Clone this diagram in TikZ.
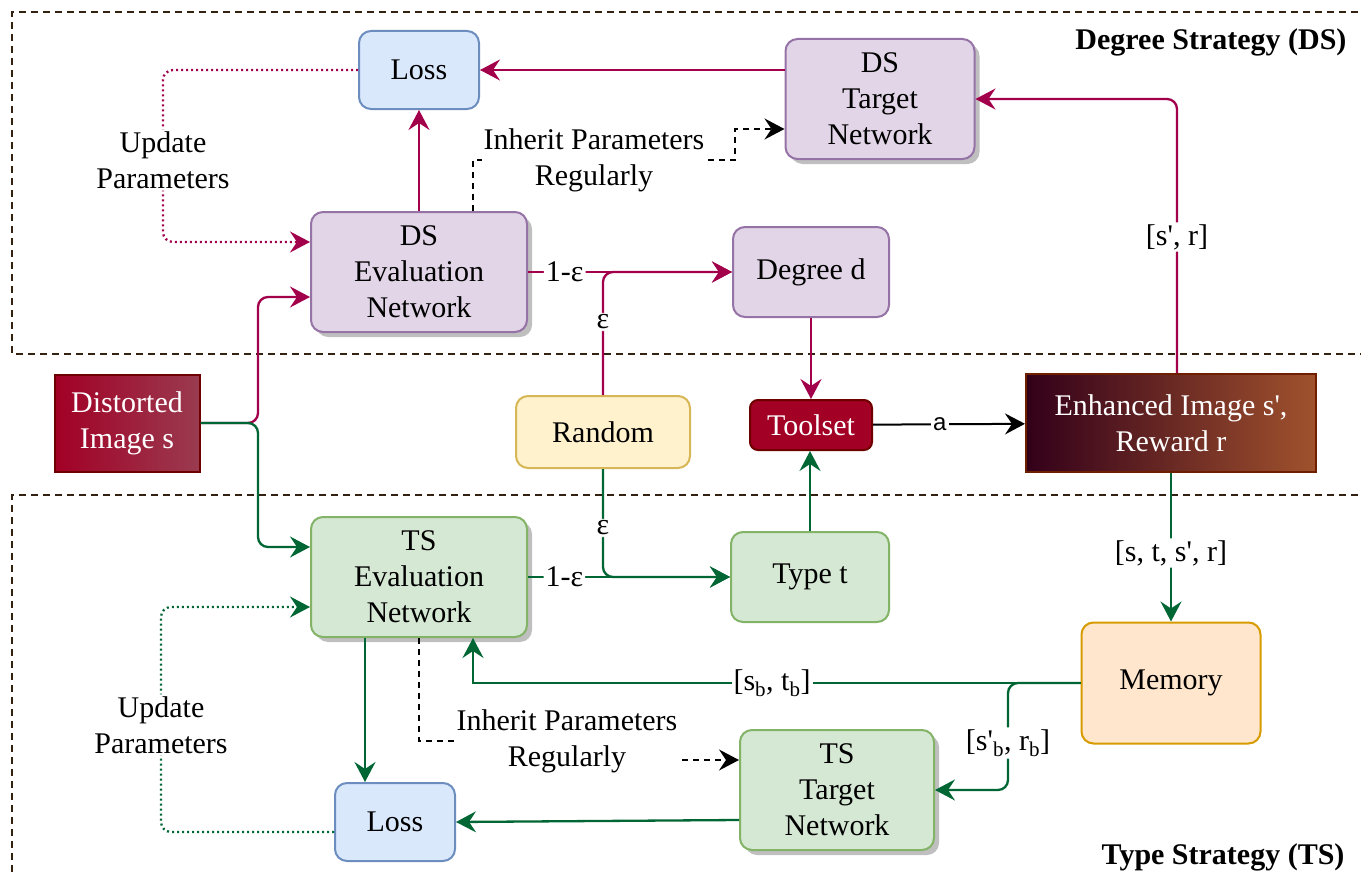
\documentclass[tikz,border=0pt]{standalone}
\usepackage{fontspec}
\setmainfont{Liberation Serif}
\setsansfont{Liberation Sans}
\usetikzlibrary{arrows.meta,shadows}
\definecolor{dsred}{RGB}{163,0,76}
\definecolor{tsgreen}{RGB}{0,102,51}
\definecolor{framecol}{RGB}{51,34,17}
\definecolor{dsfill}{HTML}{E1D5E7}
\definecolor{dsdraw}{HTML}{9673A6}
\definecolor{tsfill}{HTML}{D5E8D4}
\definecolor{tsdraw}{HTML}{82B366}
\definecolor{lossfill}{HTML}{DAE8FC}
\definecolor{lossdraw}{HTML}{6C8EBF}
\definecolor{randfill}{HTML}{FFF2CC}
\definecolor{randdraw}{HTML}{D6B656}
\definecolor{memfill}{HTML}{FFE6CC}
\definecolor{memdraw}{HTML}{D79B00}
\definecolor{crimson}{HTML}{A20025}
\definecolor{crimsonlight}{HTML}{9A3B50}
\definecolor{crimsondraw}{HTML}{6F0000}
\definecolor{enhdark}{HTML}{33001A}
\definecolor{enhlight}{HTML}{A0522D}
\definecolor{enhdraw}{HTML}{6D1F00}
\tikzset{
	box/.style 2 args={draw,line width=2pt,rounded corners=12pt,align=center,inner sep=0pt,minimum width=#1,minimum height=#2},
	dsbox/.style 2 args={box={#1}{#2},fill=dsfill,draw=dsdraw},
	tsbox/.style 2 args={box={#1}{#2},fill=tsfill,draw=tsdraw},
	lossbox/.style={box={120pt}{78pt},fill=lossfill,draw=lossdraw},
	net/.style={drop shadow={shadow xshift=5pt,shadow yshift=-5pt,fill=black!25,opacity=1}},
	imgbox/.style 2 args={draw,line width=2pt,align=center,inner sep=0pt,text=white,minimum width=#1,minimum height=#2},
	lbl/.style={fill=white,inner sep=2pt,align=center,text=black},
	title/.style={font=\fontsize{30}{36}\selectfont\bfseries,anchor=east},
	frame/.style={draw=framecol,line width=2pt,dash pattern=on 7pt off 5pt},
	tip/.style={-{Stealth[length=20pt,width=21pt,inset=7pt]}},
	dsline/.style={draw=dsred,line width=2.3pt,rounded corners=10pt},
	tsline/.style={draw=tsgreen,line width=2.3pt,rounded corners=10pt},
	dsarrow/.style={dsline,tip},
	tsarrow/.style={tsline,tip},
	dotline/.style={line width=2.3pt,dash pattern=on 2pt off 3pt},
	inhline/.style={draw=black,line width=2pt,dash pattern=on 6pt off 5pt,tip}
}
\begin{document}
\begin{tikzpicture}[x=1pt,y=-1pt,font=\fontsize{30}{36}\selectfont]
	\useasboundingbox (0,0) rectangle (1361,875);
	\draw [frame] (1370,12) -- (12,12) -- (12,354) -- (1370,354);
	\draw [frame] (1370,495) -- (12,495) -- (12,885);

	\node [title] (dstitle) at (1350,42) {Degree Strategy (DS)};
	\node [title] (tstitle) at (1348,857) {Type Strategy (TS)};

	\node [lossbox] (dsloss) at (419,70) {Loss};
	\node [dsbox={189pt}{120pt},net] (dstarget) at (880,99) {DS\\Target\\Network};
	\node [dsbox={216pt}{120pt},net] (dseval) at (419,272) {DS\\Evaluation\\Network};
	\node [dsbox={156pt}{90pt}] (degree) at (811,272) {Degree d};
	\node [imgbox={145pt}{97pt},draw=crimsondraw,left color=crimson,right color=crimsonlight] (distorted) at (127,423) {Distorted\\Image s};
	\node [box={174pt}{72pt},fill=randfill,draw=randdraw] (random) at (603,432) {Random};
	\node [box={122pt}{50pt},rounded corners=8pt,fill=crimson,draw=crimsondraw,text=white] (toolset) at (811,425) {Toolset};
	\node [imgbox={290pt}{98pt},draw=enhdraw,left color=enhdark,right color=enhlight] (enhanced) at (1171,423) {Enhanced Image s\textquotesingle,\\Reward r};
	\node [tsbox={216pt}{120pt},net] (tseval) at (419,577) {TS\\Evaluation\\Network};
	\node [tsbox={158pt}{90pt}] (type) at (810,577) {Type t};
	\node [box={179pt}{121pt},fill=memfill,draw=memdraw] (memory) at (1171,683) {Memory};
	\node [tsbox={194pt}{120pt},net] (tstarget) at (837,790) {TS\\Target\\Network};
	\node [lossbox] (tsloss) at (395,822) {Loss};
	\coordinate (split) at (258,423);

	\draw [dsarrow] (dstarget.west |- dsloss.east) -- (dsloss.east);
	\draw [dsarrow] (dseval) -- (dsloss);
	\draw [dsline,dotline,tip] (dsloss.west) -| (163,160) node [lbl] {Update\\Parameters} |- ([yshift=30pt]dseval.west);
	\draw [inhline] ([xshift=54pt]dseval.north) |- (594,160) node [lbl] {Inherit Parameters\\Regularly} -| (735,129) -- ([yshift=-30pt]dstarget.west);
	\draw [dsarrow] ([xshift=6pt]enhanced.north) -- (1177,237) node [lbl] {[s\textquotesingle, r]} |- (dstarget.east);
	\draw [dsarrow] (dseval) -- (degree) node [lbl,pos=0.18] {1-ε};
	\draw [dsarrow] (random) -- (603,322) node [lbl] {ε} |- (degree);
	\draw [dsarrow] (degree) -- (degree |- toolset.north);
	\draw [dsarrow] (distorted) -- (split) |- ([yshift=-25pt]dseval.west);

	\draw [tsarrow] (distorted) -- (split) |- ([yshift=30pt]tseval.west);
	\draw [draw=black,line width=2pt,tip] (toolset) -- (enhanced) node [lbl,pos=0.44,font=\fontsize{24}{28}\selectfont\sffamily] {a};
	\draw [tsarrow] (type) -- (type |- toolset.south);
	\draw [tsarrow] (tseval) -- (type) node [lbl,pos=0.18] {1-ε};
	\draw [tsarrow] (random) -- (603,528) node [lbl] {ε} |- (type);
	\draw [tsarrow] (enhanced) -- (1171,553) node [lbl] {[s, t, s\textquotesingle, r]} -- (memory);
	\draw [tsarrow,sharp corners] (memory) -- (772,683) node [lbl] {[s\textsubscript{b}, t\textsubscript{b}]} -| ([xshift=54pt]tseval.south);
	\draw [tsarrow] (memory.west) -| (1008,743) node [lbl] {[s\textquotesingle\textsubscript{b}, r\textsubscript{b}]} |- (tstarget.east);
	\draw [tsarrow] ([xshift=-54pt]tseval.south) -- ([xshift=-54pt]tseval.south |- tsloss.north);
	\draw [tsarrow] ([yshift=-30pt]tstarget.west) -- (tsloss.east);
	\draw [tsline,dotline,tip] ([yshift=-10pt]tsloss.west) -| (161,725) node [lbl] {Update\\Parameters} |- ([yshift=-30pt]tseval.west);
	\draw [inhline] (tseval.south) |- (567,741) node [lbl] {Inherit Parameters\\Regularly} -| (660,760) -- ([yshift=30pt]tstarget.west);
\end{tikzpicture}
\end{document}
